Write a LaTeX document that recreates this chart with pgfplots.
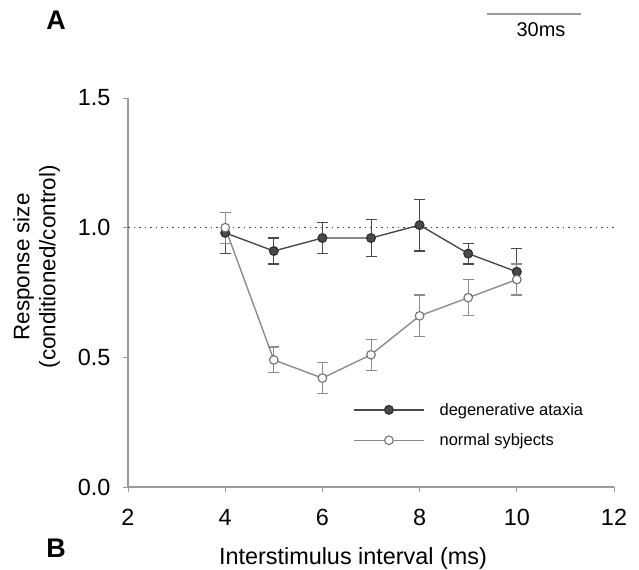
\documentclass[border=0pt]{standalone}
\usepackage{fontspec}
\setmainfont{Liberation Sans}
\usepackage{pgfplots}
\pgfplotsset{compat=1.18}
\definecolor{axgray}{HTML}{9A9A9A}
\definecolor{degcol}{HTML}{4A4A4A}
\definecolor{normcol}{HTML}{8C8C8C}
\begin{document}
\begin{tikzpicture}
\path[use as bounding box] (0bp,0bp) rectangle (639bp,570bp);
\begin{axis}[
  at={(128bp,83bp)}, anchor=south west,
  scale only axis, width=486bp, height=389bp,
  xmin=2, xmax=12, ymin=0, ymax=1.5,
  axis lines=left, axis line style={axgray, line width=1.1pt, -},
  xtick={2,4,6,8,10,12}, ytick={0,0.5,1,1.5},
  tick align=outside, major tick length=5bp,
  tick style={axgray, line width=0.9pt},
  /pgf/number format/assume math mode=true,
  yticklabel style={/pgf/number format/fixed, /pgf/number format/fixed zerofill, /pgf/number format/precision=1, font=\fontsize{23.5}{26}\selectfont, anchor=east, xshift=-9bp},
  xticklabel style={font=\fontsize{23.5}{26}\selectfont, anchor=north, yshift=-14bp},
  xlabel={Interstimulus interval (ms)},
  xlabel style={font=\fontsize{23.5}{26}\selectfont, at={(axis description cs:0.463,0)}, anchor=center, yshift=-71bp},
  ylabel={Response size\\(conditioned/control)},
  ylabel style={font=\fontsize{22.5}{26}\selectfont, align=center, at={(axis description cs:-0.188,0.566)}, anchor=center},
  legend style={draw=none, fill=none, at={(axis description cs:0.463,0.216)}, anchor=north west, font=\fontsize{16.5}{19}\selectfont, inner sep=0pt, row sep=17bp, nodes={inner sep=0pt},
    /tikz/every odd column/.append style={column sep=15bp}},
  legend cell align=left,
  legend image code/.code={\draw[mark repeat=2, mark phase=2, #1] plot coordinates {(0bp,0bp) (35bp,0bp) (70bp,0bp)};},
  clip=false,
]
\addplot[forget plot, line width=1.6pt, dash pattern=on 1.5bp off 4bp, color=degcol] coordinates {(2,1) (12,1)};
\addplot[color=degcol, line width=1.4pt, mark=*, mark size=4.3bp,
  mark options={fill=degcol, draw=degcol!70!black, solid},
  error bars/.cd, y dir=both, y explicit,
  error bar style={color=degcol, line width=1pt},
  error mark options={rotate=90, mark size=5.5bp, line width=1.2pt, color=degcol}]
  coordinates {
  (4,0.98) +- (0,0.08)
  (5,0.91) +- (0,0.05)
  (6,0.96) +- (0,0.06)
  (7,0.96) +- (0,0.07)
  (8,1.01) +- (0,0.10)
  (9,0.90) +- (0,0.04)
  (10,0.83) +- (0,0.09)
  };
\addlegendentry{degenerative ataxia}
\addplot[color=normcol, line width=1.4pt, mark=*, mark size=4.3bp,
  mark options={fill=white, draw=normcol!80!black, line width=1.1pt, solid},
  error bars/.cd, y dir=both, y explicit,
  error bar style={color=normcol, line width=1pt},
  error mark options={rotate=90, mark size=5.5bp, line width=1.2pt, color=normcol}]
  coordinates {
  (4,1.00) +- (0,0.06)
  (5,0.49) +- (0,0.05)
  (6,0.42) +- (0,0.06)
  (7,0.51) +- (0,0.06)
  (8,0.66) +- (0,0.08)
  (9,0.73) +- (0,0.07)
  (10,0.80) +- (0,0.06)
  };
\addlegendentry{normal sybjects}
\end{axis}
\node[font=\bfseries\fontsize{27}{30}\selectfont] at (56bp,550bp) {A};
\node[font=\bfseries\fontsize{27}{30}\selectfont] at (56bp,22bp) {B};
\draw[axgray, line width=1.2pt] (487bp,556bp) -- (581bp,556bp);
\node[font=\fontsize{20}{23}\selectfont] at (541bp,540bp) {30ms};
\end{tikzpicture}
\end{document}
